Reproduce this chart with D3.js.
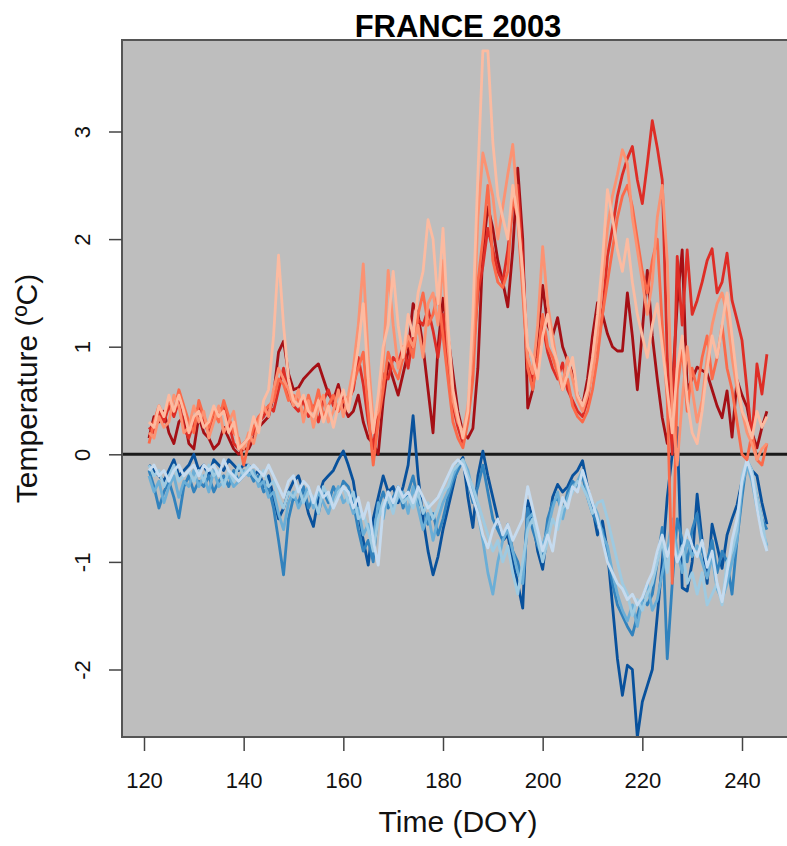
<!DOCTYPE html>
<html>
<head>
<meta charset="utf-8">
<script src="https://d3js.org/d3.v7.min.js"></script>
<style>
  body { margin: 0; background: #fff; }
  svg { display: block; font-family: "Liberation Sans", Arial, sans-serif; }
</style>
</head>
<body>
<div id="chart"></div>
<script>
// Daily temperature anomalies, FRANCE 2003, DOY 121..245
const DOY = d3.range(121, 246);
const X_TICKS = [120, 140, 160, 180, 200, 220, 240];
const Y_TICKS = [-2, -1, 0, 1, 2, 3];

// warm members (dark -> light)
const red1 = [
  0.15, 0.35, 0.30, 0.40, 0.20, 0.10, 0.30, 0.35, 0.10, 0.05,
  0.35, 0.20, 0.15, 0.05, 0.10, 0.25, 0.15, 0.05, 0.00, 0.05,
  0.05, 0.15, 0.25, 0.30, 0.35, 0.55, 0.95, 1.05, 0.75, 0.60,
  0.62, 0.70, 0.75, 0.80, 0.84, 0.70, 0.56, 0.50, 0.65, 0.45,
  0.35, 0.40, 0.55, 0.30, 0.15, 0.10, 0.00, 0.50, 0.85, 0.70,
  0.55, 0.75, 0.95, 1.40, 1.30, 1.00, 0.60, 0.20, 1.00, 1.45,
  1.10, 0.75, 0.40, 0.20, 0.15, 0.24, 0.80, 1.90, 2.30, 2.10,
  1.80, 1.60, 1.37, 1.90, 2.66, 2.00, 0.43, 0.60, 1.10, 1.57,
  1.20, 1.10, 1.27, 1.00, 0.87, 0.75, 0.55, 0.45, 0.70, 1.10,
  1.41, 1.30, 1.12, 1.00, 0.96, 0.96, 1.50, 1.10, 0.60, 1.15,
  1.71, 1.10, 0.70, 0.34, 0.10, 0.60, 1.40, 1.90, 0.60, 0.70,
  0.81, 0.78, 0.75, 0.60, 0.45, 0.34, 0.59, 0.16, 0.69, 0.55,
  0.44, 0.20, 0.06, 0.25, 0.40
];
const red2 = [
  0.25, 0.20, 0.40, 0.30, 0.45, 0.35, 0.50, 0.25, 0.15, 0.30,
  0.45, 0.30, 0.20, 0.35, 0.40, 0.45, 0.30, 0.10, 0.05, 0.10,
  0.15, 0.20, 0.30, 0.35, 0.45, 0.40, 0.60, 0.80, 0.55, 0.45,
  0.40, 0.50, 0.35, 0.45, 0.30, 0.50, 0.60, 0.45, 0.40, 0.55,
  0.50, 0.60, 0.90, 0.65, 0.30, 0.05, 0.45, 0.75, 0.70, 0.90,
  0.85, 1.00, 0.80, 1.10, 1.25, 1.20, 1.35, 1.15, 0.90, 1.30,
  0.80, 0.45, 0.25, 0.10, 0.35, 0.90, 1.50, 1.75, 2.10, 1.90,
  1.70, 1.60, 1.90, 2.30, 2.50, 1.80, 0.90, 0.70, 0.85, 1.20,
  0.95, 0.80, 0.70, 0.85, 0.60, 0.50, 0.40, 0.35, 0.50, 0.85,
  1.00, 1.30, 1.84, 2.10, 2.40, 2.60, 2.75, 2.86, 2.55, 2.33,
  2.70, 3.10, 2.85, 2.55, 0.90, 0.00, 1.84, 1.20, 1.90, 1.30,
  1.43, 1.60, 1.80, 1.91, 1.50, 1.60, 1.87, 1.43, 1.25, 1.06,
  0.60, 0.13, 0.84, 0.56, 0.93
];
const red3 = [
  0.10, 0.30, 0.45, 0.35, 0.50, 0.40, 0.60, 0.45, 0.30, 0.20,
  0.50, 0.35, 0.25, 0.40, 0.30, 0.50, 0.35, 0.20, 0.15, -0.10,
  0.10, 0.25, 0.35, 0.40, 0.45, 0.50, 0.70, 0.65, 0.50, 0.55,
  0.50, 0.35, 0.55, 0.40, 0.60, 0.35, 0.45, 0.55, 0.40, 0.50,
  0.45, 0.65, 0.80, 0.95, 0.40, -0.10, 0.30, 0.60, 0.95, 0.80,
  0.70, 0.90, 1.05, 0.90, 1.30, 1.50, 1.20, 1.30, 1.50, 1.10,
  0.70, 0.30, 0.15, 0.06, 0.30, 0.70, 1.60, 2.00, 2.50, 1.80,
  1.60, 1.55, 1.70, 2.40, 2.20, 1.50, 0.80, 0.60, 0.90, 1.30,
  1.00, 0.90, 0.75, 0.60, 0.70, 0.45, 0.35, 0.30, 0.40, 0.60,
  0.90, 1.30, 1.60, 1.90, 2.20, 2.40, 2.50, 2.30, 2.00, 1.70,
  1.50, 1.80, 2.00, 1.20, 0.50, -1.20, 0.60, 1.00, 0.40, 0.80,
  0.60, 0.90, 1.10, 0.70, 0.90, 1.20, 0.80, 0.60, 0.30, 0.00,
  -0.05, 0.20, -0.05, -0.10, 0.10
];
const red4 = [
  0.20, 0.15, 0.35, 0.25, 0.30, 0.55, 0.45, 0.20, 0.25, 0.45,
  0.30, 0.40, 0.15, 0.30, 0.45, 0.20, 0.30, 0.40, 0.10, 0.05,
  0.20, 0.10, 0.30, 0.45, 0.35, 0.60, 0.80, 0.70, 0.60, 0.45,
  0.60, 0.30, 0.50, 0.25, 0.45, 0.55, 0.30, 0.40, 0.60, 0.35,
  0.55, 0.80, 1.20, 1.77, 0.90, 0.30, 0.40, 0.85, 1.71, 1.20,
  0.80, 0.95, 1.10, 1.00, 1.20, 0.90, 1.40, 1.50, 1.20, 1.80,
  1.00, 0.50, 0.30, 0.20, 0.45, 1.00, 2.20, 2.80, 2.60, 2.40,
  2.00, 2.30, 2.60, 2.88, 2.30, 1.60, 0.90, 0.75, 1.20, 1.93,
  1.40, 1.10, 0.80, 0.65, 0.90, 0.70, 0.50, 0.40, 0.55, 0.75,
  1.10, 1.60, 2.10, 2.40, 2.60, 2.83, 2.70, 2.20, 1.90, 1.60,
  1.30, 1.60, 2.20, 2.50, 1.80, 0.40, -0.10, 0.50, 1.00, 0.60,
  0.30, 0.50, 0.90, 1.20, 1.40, 1.50, 1.30, 0.90, 0.60, 0.40,
  0.20, 0.10, -0.05, 0.05, 0.10
];
const red5 = [
  0.30, 0.25, 0.45, 0.35, 0.55, 0.40, 0.55, 0.40, 0.20, 0.35,
  0.40, 0.25, 0.30, 0.45, 0.35, 0.40, 0.20, 0.30, 0.05, 0.10,
  0.15, 0.35, 0.20, 0.50, 0.60, 1.10, 1.85, 1.20, 0.70, 0.50,
  0.45, 0.55, 0.40, 0.35, 0.50, 0.30, 0.45, 0.25, 0.45, 0.60,
  0.40, 0.70, 1.00, 1.40, 0.70, 0.20, 0.55, 1.00, 1.20, 1.70,
  1.20, 0.90, 1.30, 1.10, 1.50, 1.70, 2.18, 2.00, 1.40, 2.10,
  1.20, 0.60, 0.35, 0.15, 0.40, 1.30, 2.60, 3.75, 3.75, 2.90,
  2.40, 2.20, 2.00, 2.50, 2.20, 1.70, 1.00, 0.90, 0.70, 1.10,
  1.30, 1.00, 0.85, 0.60, 0.75, 0.90, 0.55, 0.45, 0.60, 0.90,
  1.30, 1.80, 2.46, 2.20, 1.90, 1.70, 2.00, 1.60, 1.30, 1.10,
  0.90, 1.20, 1.40, 1.00, 0.60, 0.20, 0.80, 1.10, 0.50, 0.20,
  0.10, 0.40, 0.80, 1.10, 0.90, 1.20, 1.50, 1.10, 0.70, 0.40,
  0.30, 0.15, 0.40, 0.25, 0.35
];

// cold members (dark -> light)
const blue1 = [
  -0.10, -0.15, -0.20, -0.25, -0.15, -0.05, -0.20, -0.15, -0.10, 0.00,
  -0.15, -0.10, -0.20, -0.05, -0.10, -0.15, -0.05, -0.10, -0.15, -0.10,
  -0.10, -0.20, -0.15, -0.30, -0.20, -0.40, -0.60, -0.50, -0.35, -0.25,
  -0.20, -0.35, -0.55, -0.67, -0.40, -0.25, -0.20, -0.15, -0.05, 0.03,
  -0.10, -0.25, -0.55, -0.80, -1.03, -0.60, -0.40, -0.20, -0.35, -0.30,
  -0.45, -0.30, -0.10, 0.36, -0.20, -0.60, -0.90, -1.12, -0.95, -0.70,
  -0.50, -0.30, -0.10, -0.03, -0.40, -0.68, -0.20, 0.03, -0.20, -0.40,
  -0.60, -0.80, -0.75, -1.00, -1.20, -1.43, -0.43, -0.60, -0.90, -1.07,
  -0.70, -0.40, -0.28, -0.35, -0.30, -0.20, -0.15, -0.06, -0.30, -0.50,
  -0.75, -0.62, -0.90, -1.40, -1.90, -2.24, -1.96, -2.00, -2.63, -2.30,
  -2.15, -2.00, -1.50, -1.00, -0.40, 0.00, 0.25, -1.24, -1.27, -1.00,
  -0.37, -0.80, -1.20, -0.65, -0.85, -1.06, -0.75, -0.60, -0.47, -0.25,
  -0.06, -0.15, -0.20, -0.45, -0.65
];
const blue2 = [
  -0.15, -0.30, -0.50, -0.35, -0.25, -0.40, -0.59, -0.30, -0.20, -0.35,
  -0.25, -0.30, -0.20, -0.35, -0.25, -0.20, -0.30, -0.15, -0.25, -0.20,
  -0.15, -0.25, -0.20, -0.35, -0.30, -0.50, -0.80, -1.12, -0.60, -0.40,
  -0.45, -0.30, -0.50, -0.40, -0.55, -0.35, -0.45, -0.30, -0.40, -0.25,
  -0.30, -0.45, -0.70, -0.90, -0.80, -1.00, -0.50, -0.35, -0.50, -0.40,
  -0.30, -0.50, -0.35, -0.20, -0.45, -0.50, -0.65, -0.55, -0.75, -0.60,
  -0.40, -0.25, -0.15, -0.05, -0.25, -0.45, -0.30, -0.10, -0.35, -0.60,
  -0.70, -0.80, -0.65, -0.90, -1.00, -1.20, -0.50, -0.70, -0.85, -0.95,
  -0.60, -0.45, -0.40, -0.55, -0.35, -0.25, -0.30, -0.20, -0.40, -0.55,
  -0.65, -0.70, -0.95, -1.20, -1.40, -1.50, -1.60, -1.68, -1.50, -1.34,
  -1.40, -1.30, -1.00, -0.68, -1.90, -1.20, -0.60, -0.80, -1.00, -0.70,
  -0.55, -0.90, -1.00, -0.80, -1.10, -0.90, -1.00, -1.30, -0.80, -0.40,
  -0.05, -0.20, -0.40, -0.60, -0.70
];
const blue3 = [
  -0.20, -0.35, -0.25, -0.45, -0.30, -0.20, -0.40, -0.25, -0.30, -0.15,
  -0.30, -0.20, -0.35, -0.15, -0.30, -0.25, -0.20, -0.30, -0.25, -0.15,
  -0.20, -0.15, -0.30, -0.25, -0.40, -0.35, -0.55, -0.70, -0.45, -0.35,
  -0.50, -0.40, -0.30, -0.50, -0.35, -0.45, -0.55, -0.40, -0.30, -0.45,
  -0.40, -0.55, -0.50, -0.75, -0.65, -0.80, -0.45, -0.60, -0.35, -0.50,
  -0.40, -0.35, -0.55, -0.30, -0.50, -0.70, -0.55, -0.80, -0.60, -0.45,
  -0.35, -0.20, -0.10, -0.05, -0.15, -0.35, -0.55, -0.80, -1.10, -1.30,
  -1.00, -0.80, -0.70, -0.90, -1.10, -1.20, -0.60, -0.55, -0.75, -0.85,
  -0.70, -0.50, -0.35, -0.60, -0.40, -0.30, -0.25, -0.15, -0.35, -0.45,
  -0.55, -0.75, -0.85, -1.10, -1.30, -1.45, -1.55, -1.40, -1.60, -1.35,
  -1.20, -1.45, -1.35, -1.10, -0.90, -0.60, -0.90, -1.10, -0.80, -0.95,
  -0.85, -1.00, -1.15, -0.95, -1.25, -1.35, -1.20, -1.00, -0.80, -0.30,
  -0.10, -0.25, -0.50, -0.70, -0.85
];
const blue4 = [
  -0.10, -0.20, -0.15, -0.30, -0.20, -0.10, -0.25, -0.20, -0.15, -0.25,
  -0.15, -0.25, -0.10, -0.20, -0.15, -0.30, -0.15, -0.25, -0.10, -0.20,
  -0.10, -0.20, -0.25, -0.15, -0.30, -0.25, -0.40, -0.50, -0.35, -0.40,
  -0.30, -0.45, -0.35, -0.40, -0.55, -0.30, -0.40, -0.50, -0.35, -0.30,
  -0.45, -0.35, -0.60, -0.55, -0.70, -0.90, -0.60, -0.45, -0.40, -0.55,
  -0.35, -0.45, -0.40, -0.50, -0.35, -0.55, -0.45, -0.60, -0.50, -0.35,
  -0.30, -0.15, -0.10, -0.05, -0.20, -0.30, -0.45, -0.60, -0.75, -0.90,
  -0.80, -1.00, -0.85, -1.10, -1.30, -1.00, -0.70, -0.60, -0.80, -1.00,
  -0.80, -0.60, -0.70, -0.50, -0.45, -0.35, -0.25, -0.30, -0.40, -0.55,
  -0.45, -0.43, -0.60, -0.80, -1.00, -1.20, -1.30, -1.50, -1.35, -1.45,
  -1.30, -1.20, -1.00, -0.80, -1.10, -0.70, -1.00, -0.85, -1.20, -1.10,
  -1.30, -1.10, -1.40, -1.30, -1.20, -1.40, -1.00, -0.90, -0.70, -0.20,
  -0.05, -0.15, -0.40, -0.60, -0.90
];
const blue5 = [
  -0.15, -0.10, -0.20, -0.15, -0.25, -0.15, -0.10, -0.20, -0.15, -0.10,
  -0.20, -0.10, -0.15, -0.10, -0.20, -0.05, -0.15, -0.20, -0.25, -0.20,
  -0.15, -0.10, -0.15, -0.20, -0.10, -0.20, -0.30, -0.40, -0.25, -0.20,
  -0.35, -0.25, -0.30, -0.45, -0.30, -0.40, -0.35, -0.50, -0.40, -0.30,
  -0.35, -0.50, -0.40, -0.60, -0.45, -0.80, -1.03, -0.50, -0.35, -0.45,
  -0.30, -0.40, -0.35, -0.45, -0.30, -0.40, -0.50, -0.45, -0.40, -0.30,
  -0.20, -0.10, -0.05, -0.10, -0.25, -0.40, -0.55, -0.75, -0.87, -0.70,
  -0.60, -0.75, -0.65, -0.80, -0.70, -0.60, -0.30, -0.50, -0.70, -0.90,
  -0.75, -0.90, -0.60, -0.40, -0.50, -0.30, -0.35, -0.15, -0.30, -0.45,
  -0.60, -0.80, -1.00, -1.10, -1.20, -1.25, -1.35, -1.30, -1.40, -1.33,
  -1.20, -1.10, -0.90, -0.75, -0.95, -0.80, -1.00, -0.90, -0.70, -0.85,
  -0.95, -0.80, -1.05, -0.90, -1.20, -1.37, -1.10, -0.80, -0.60, -0.25,
  -0.05, -0.20, -0.50, -0.75, -0.90
];

const RED_COLORS = ["#A50F15", "#DE2D26", "#FB6A4A", "#FC9272", "#FCBBA1"];
const BLUE_COLORS = ["#08519C", "#3182BD", "#6BAED6", "#9ECAE1", "#C6DBEF"];

const width = 787, height = 846;
const panel = { left: 122, top: 40, right: 795, bottom: 737 };

const svg = d3.select("#chart").append("svg")
  .attr("width", width)
  .attr("height", height);

const x = d3.scaleLinear().domain([120, 240]).range([144, 742]);
const y = d3.scaleLinear().domain([-2, 3]).range([669.5, 131.5]);

// panel background
svg.append("rect")
  .attr("x", panel.left).attr("y", panel.top)
  .attr("width", panel.right - panel.left)
  .attr("height", panel.bottom - panel.top)
  .attr("fill", "#bebebe");

svg.append("clipPath").attr("id", "clip")
  .append("rect")
  .attr("x", panel.left).attr("y", panel.top)
  .attr("width", panel.right - panel.left)
  .attr("height", panel.bottom - panel.top);

const plot = svg.append("g").attr("clip-path", "url(#clip)");

// zero line
plot.append("line")
  .attr("x1", panel.left).attr("x2", panel.right)
  .attr("y1", y(0)).attr("y2", y(0))
  .attr("stroke", "#1a1a1a")
  .attr("stroke-width", 3);

const line = d3.line()
  .x((d, i) => x(DOY[i]))
  .y((d) => y(d));

const reds = [red1, red2, red3, red4, red5];
const blues = [blue1, blue2, blue3, blue4, blue5];

blues.forEach((s, k) => {
  plot.append("path")
    .attr("d", line(s))
    .attr("fill", "none")
    .attr("stroke", BLUE_COLORS[k])
    .attr("stroke-width", 2.8)
    .attr("stroke-linejoin", "round");
});
reds.forEach((s, k) => {
  plot.append("path")
    .attr("d", line(s))
    .attr("fill", "none")
    .attr("stroke", RED_COLORS[k])
    .attr("stroke-width", 2.8)
    .attr("stroke-linejoin", "round");
});

// panel frame
svg.append("path")
  .attr("d", `M${panel.right},${panel.top}H${panel.left}V${panel.bottom}H${panel.right}`)
  .attr("fill", "none")
  .attr("stroke", "#555")
  .attr("stroke-width", 2);

// x axis
const xAxis = svg.append("g")
  .attr("transform", `translate(0,${panel.bottom})`)
  .call(d3.axisBottom(x).tickValues(X_TICKS).tickSize(14).tickSizeOuter(0)
    .tickFormat((d) => String(d)));
xAxis.select(".domain").remove();
xAxis.selectAll(".tick line").attr("stroke", "#444").attr("stroke-width", 1.5);
xAxis.selectAll(".tick text")
  .attr("y", 51).attr("dy", 0)
  .attr("font-size", 22)
  .attr("fill", "#111")
  .style("font-family", "'Liberation Sans', Arial, sans-serif");

// y axis
const yAxis = svg.append("g")
  .attr("transform", `translate(${panel.left},0)`)
  .call(d3.axisLeft(y).tickValues(Y_TICKS).tickSize(13).tickSizeOuter(0)
    .tickFormat((d) => String(d)));
yAxis.select(".domain").remove();
yAxis.selectAll(".tick line").attr("stroke", "#444").attr("stroke-width", 1.5);
yAxis.selectAll(".tick text")
  .attr("x", 0).attr("dy", 0)
  .attr("text-anchor", "middle")
  .attr("transform", "translate(-32,0) rotate(-90)")
  .attr("font-size", 22)
  .attr("fill", "#111")
  .style("font-family", "'Liberation Sans', Arial, sans-serif");

// titles
svg.append("text")
  .attr("x", 458).attr("y", 37)
  .attr("text-anchor", "middle")
  .attr("font-size", 31)
  .attr("font-weight", "bold")
  .attr("fill", "#000")
  .text("FRANCE 2003");

svg.append("text")
  .attr("x", 458).attr("y", 832)
  .attr("text-anchor", "middle")
  .attr("font-size", 30)
  .attr("fill", "#111")
  .text("Time (DOY)");

svg.append("text")
  .attr("transform", `translate(37,${(panel.top + panel.bottom) / 2}) rotate(-90)`)
  .attr("text-anchor", "middle")
  .attr("font-size", 30)
  .attr("fill", "#111")
  .text("Temperature (ºC)");
</script>
</body>
</html>
